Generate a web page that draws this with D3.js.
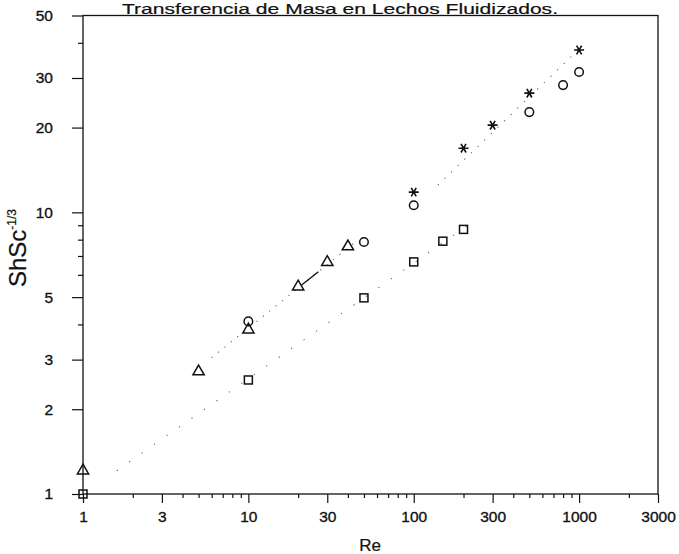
<!DOCTYPE html>
<html>
<head>
<meta charset="utf-8">
<script src="https://cdn.jsdelivr.net/npm/d3@7"></script>
<style>
html,body{margin:0;padding:0;background:#fff;}
svg{display:block;}
text{font-family:"Liberation Sans",Arial,Helvetica,sans-serif;fill:#111;}
</style>
</head>
<body>
<svg id="chart" width="679" height="554"></svg>
<script>
// ---- data ----
const triRe  = [1, 5, 10, 20, 30, 40];
const triVal = [1.2, 2.7, 3.8, 5.4, 6.6, 7.5];
const cirRe  = [10, 50, 100, 500, 800, 1000];
const cirVal = [4.1, 7.85, 10.6, 22.7, 28.3, 31.5];
const sqRe   = [1, 10, 50, 100, 150, 200];
const sqVal  = [1, 2.54, 4.97, 6.67, 7.9, 8.7];
const starRe = [100, 200, 300, 500, 1000];
const starVal= [11.8, 16.9, 20.4, 26.5, 37.7];
// dotted correlation lines (end points Re, value)
const fitUpperRe  = [140, 1000];
const fitUpperVal = [12.5, 38];
const fitTriRe    = [6, 45];
const fitTriVal   = [3.05, 7.9];
const fitSqRe     = [1.6, 230];
const fitSqVal    = [1.21, 9.3];
const solidSegRe  = [21, 26.5];
const solidSegVal = [5.52, 6.15];
// axis ticks
const xMajor = [1, 3, 10, 30, 100, 300, 1000, 3000];
const xMinor = [2,4,5,6,7,8,9,20,40,50,60,70,80,90,200,400,500,600,700,800,900,2000];
const yMajor = [1, 2, 3, 5, 10, 20, 30, 50];
const yMinor = [4, 6, 7, 8, 9, 40];
const titleText = "Transferencia de Masa en Lechos Fluidizados.";
const xTitle = "Re";

const svg = d3.select("#chart");
const x = d3.scaleLog().domain([1, 3000]).range([83, 658]);
const y = d3.scaleLog().domain([1, 50]).range([494, 15.5]);
const ink = "#111";

// frame
svg.append("rect")
  .attr("x", x(1)).attr("y", y(50))
  .attr("width", x(3000) - x(1)).attr("height", y(1) - y(50))
  .attr("fill", "none").attr("stroke", ink).attr("stroke-width", 1.3);

// x axis
const gx = svg.append("g").attr("transform", `translate(0,${y(1)})`);
gx.call(d3.axisBottom(x).tickValues(xMajor).tickSize(9).tickPadding(8).tickFormat(d3.format("d")));
const gxm = svg.append("g").attr("transform", `translate(0,${y(1)})`);
gxm.call(d3.axisBottom(x).tickValues(xMinor).tickSize(4).tickFormat(""));
// y axis
const gy = svg.append("g").attr("transform", `translate(${x(1)},0)`);
gy.call(d3.axisLeft(y).tickValues(yMajor).tickSize(11).tickPadding(19).tickFormat(d3.format("d")));
const gym = svg.append("g").attr("transform", `translate(${x(1)},0)`);
gym.call(d3.axisLeft(y).tickValues(yMinor).tickSize(5).tickFormat(""));

svg.selectAll(".domain").remove();
svg.selectAll(".tick line").attr("stroke", ink).attr("stroke-width", 1.2);
svg.selectAll(".tick text").attr("font-size", 15.5).attr("fill", ink)
  .attr("stroke", ink).attr("stroke-width", 0.35)
  .attr("font-family", "'Liberation Sans', Arial, sans-serif");

// title
svg.append("text").attr("x", 340).attr("y", 14.3).attr("text-anchor", "middle")
  .attr("font-size", 15.5).attr("textLength", 436).attr("lengthAdjust", "spacingAndGlyphs")
  .attr("stroke", ink).attr("stroke-width", 0.2).text(titleText);
// x title
svg.append("text").attr("x", 370).attr("y", 551)
  .attr("text-anchor", "middle").attr("font-size", 17)
  .attr("stroke", ink).attr("stroke-width", 0.2).text(xTitle);
// y title
const yt = svg.append("text").attr("transform", "translate(26,248) rotate(-90)")
  .attr("text-anchor", "middle").attr("font-size", 24)
  .attr("stroke", ink).attr("stroke-width", 0.2);
yt.append("tspan").text("ShSc");
yt.append("tspan").attr("font-size", 12).attr("dy", -10).text("-1/3");

// dotted lines
const line = d3.line().x(d => x(d[0])).y(d => y(d[1]));
function dotted(reArr, valArr, dash) {
  svg.append("path").attr("d", line(d3.zip(reArr, valArr)))
    .attr("fill", "none").attr("stroke", "#666").attr("stroke-width", 1.1)
    .attr("stroke-dasharray", dash);
}
dotted(fitUpperRe, fitUpperVal, "1.2,8");
dotted(fitTriRe, fitTriVal, "1.2,7");
dotted(fitSqRe, fitSqVal, "1.2,14");
svg.append("path").attr("d", line(d3.zip(solidSegRe, solidSegVal)))
  .attr("fill", "none").attr("stroke", ink).attr("stroke-width", 1.4);

// markers
const sw = 1.5;
const tri = d3.symbol().type(d3.symbolTriangle).size(55);
svg.append("g").selectAll("path").data(d3.zip(triRe, triVal)).join("path")
  .attr("d", tri).attr("transform", d => `translate(${x(d[0])},${y(d[1]) - 1})`)
  .attr("fill", "none").attr("stroke", ink).attr("stroke-width", sw);
svg.append("g").selectAll("circle").data(d3.zip(cirRe, cirVal)).join("circle")
  .attr("cx", d => x(d[0])).attr("cy", d => y(d[1])).attr("r", 4.3)
  .attr("fill", "none").attr("stroke", ink).attr("stroke-width", sw);
svg.append("g").selectAll("rect").data(d3.zip(sqRe, sqVal)).join("rect")
  .attr("x", d => x(d[0]) - 4).attr("y", d => y(d[1]) - 4)
  .attr("width", 8).attr("height", 8)
  .attr("fill", "none").attr("stroke", ink).attr("stroke-width", sw);
const star = d3.symbol().type(d3.symbolAsterisk).size(70);
svg.append("g").selectAll("path").data(d3.zip(starRe, starVal)).join("path")
  .attr("d", star).attr("transform", d => `translate(${x(d[0])},${y(d[1])}) rotate(90)`)
  .attr("fill", "none").attr("stroke", ink).attr("stroke-width", 1.6);
</script>
</body>
</html>
